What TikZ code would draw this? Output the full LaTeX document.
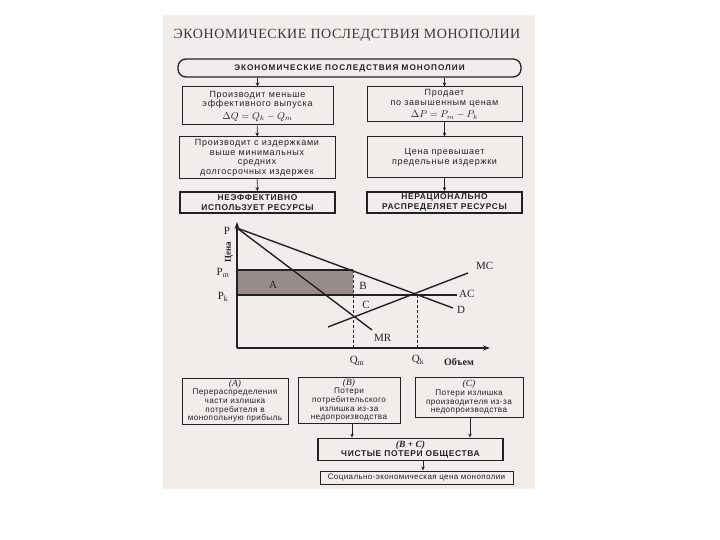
\documentclass[tikz,border=0pt]{standalone}
\usepackage{fontspec}
\setmainfont{Liberation Serif}
\setsansfont{Liberation Sans}
\newfontfamily\boxfont[LetterSpace=8]{Liberation Sans}
\newfontfamily\smallboxfont[LetterSpace=5]{Liberation Sans}
\newfontfamily\capsfont[LetterSpace=12]{Liberation Sans}
\newfontfamily\titlefont[LetterSpace=4]{Liberation Serif}
\newcommand{\formula}[1]{{\fontsize{10}{10}\selectfont$#1$}}
\newcommand{\areatag}[1]{{\rmfamily\itshape\fontsize{9.5}{9}\selectfont #1}}
\usetikzlibrary{arrows.meta,positioning,calc}
\definecolor{paper}{HTML}{F1EDEB}
\definecolor{ink}{HTML}{222222}
\definecolor{areaA}{HTML}{978C89}
\tikzset{
	infobox/.style={
			draw=ink,
			line width=1pt,
			align=center,
			inner sep=0pt,
			text=ink,
			font=\boxfont\fontsize{9}{9.6}\selectfont
		},
	smallbox/.style={
			infobox,
			font=\smallboxfont\fontsize{8.2}{8.7}\selectfont
		},
	resultbox/.style={
			infobox,
			line width=1.8pt,
			font=\boxfont\bfseries\fontsize{8.4}{9.4}\selectfont
		},
	flow/.style={
			draw=ink,
			semithick,
			-{Stealth[length=4pt,width=3.5pt]}
		},
	econline/.style={
			draw=ink,
			line width=1.4pt
		},
	guide/.style={
			draw=ink,
			thick,
			dash pattern=on 3pt off 2pt
		},
	graphlabel/.style={
			font=\fontsize{11}{12}\selectfont,
			text=ink,
			inner sep=1pt
		}
}

\begin{document}
\begin{tikzpicture}[x=1pt,y=-1pt]

              \useasboundingbox (0,0) rectangle (720,540);
              \fill[paper] (163,15) rectangle (535,489);

              \node[font=\titlefont\fontsize{14}{16}\selectfont, text=ink!90] (title) at (347,35) {ЭКОНОМИЧЕСКИЕ ПОСЛЕДСТВИЯ МОНОПОЛИИ};

              \node[infobox, line width=1.3pt, rounded corners=8pt, minimum width=343pt, minimum height=18pt, font=\capsfont\bfseries\fontsize{8.2}{9}\selectfont] (top) at (349.5,68) {ЭКОНОМИЧЕСКИЕ ПОСЛЕДСТВИЯ МОНОПОЛИИ};

              \node[infobox, minimum width=151pt, minimum height=38pt] (l1) at (257.5,106) {Производит меньше\\эффективного выпуска\\[3pt]\formula{\Delta Q = Q_k - Q_m}};
              \node[infobox, minimum width=156pt, minimum height=42pt] (l2) at (257,158) {Производит с издержками\\выше минимальных\\средних\\долгосрочных издержек};
              \node[resultbox, minimum width=155pt, minimum height=21pt] (l3) at (257.5,202.5) {НЕЭФФЕКТИВНО\\ИСПОЛЬЗУЕТ РЕСУРСЫ};

              \node[infobox, minimum width=155pt, minimum height=35pt] (r1) at (444.5,104.5) {Продает\\по завышенным ценам\\[3pt]\formula{\Delta P = P_m - P_k}};
              \node[infobox, minimum width=155pt, minimum height=41pt] (r2) at (444.5,157.5) {Цена превышает\\предельные издержки};
              \node[resultbox, minimum width=155pt, minimum height=21pt] (r3) at (444.5,202.5) {НЕРАЦИОНАЛЬНО\\РАСПРЕДЕЛЯЕТ РЕСУРСЫ};

              \draw[flow] (top.south -| l1.north) -- (l1.north);
              \draw[flow] (l1) -- (l2);
              \draw[flow] (l2) -- (l3);
              \draw[flow] (top.south -| r1.north) -- (r1.north);
              \draw[flow] (r1) -- (r2);
              \draw[flow] (r2) -- (r3);

              \coordinate (O) at (237,348);
              \coordinate (yend) at (237,222);
              \coordinate (xend) at (490,348);
              \coordinate (Ptop) at (237,228);
              \coordinate (Pm) at (237,270);
              \coordinate (Pk) at (237,295);
              \coordinate (Dend) at (453,308);
              \coordinate (MRend) at (372,330);
              \coordinate (MCstart) at (328,327);
              \coordinate (MCend) at (468,273);
              \coordinate (ACend) at (457,295);
              \coordinate (Qm) at (353,348);
              \coordinate (Qk) at (417,348);

              \fill[areaA] (Pm) rectangle (Qm |- Pk);
              \draw[econline] (Pm) -- (Qm |- Pm);
              \draw[econline] (Pk) -- (ACend);
              \draw[guide] (Qm |- Pm) -- (Qm);
              \draw[guide] (Qk |- Pk) -- (Qk);
              \draw[econline] (Ptop) -- (Dend);
              \draw[econline] (Ptop) -- (MRend);
              \draw[econline] (MCstart) -- (MCend);
              \draw[ink, line width=1.5pt, -{Stealth[length=7pt,width=5pt]}] (O) -- (yend);
              \draw[ink, line width=1.5pt, -{Stealth[length=7pt,width=5pt]}] (O) -- (xend);

              \node[graphlabel] (lp) at (227,231) {P};
              \node[graphlabel, rotate=90, font=\bfseries\fontsize{9}{10}\selectfont] (lprice) at (229,252) {Цена};
              \node[graphlabel] (lpm) at (223,273) {P\textsubscript{m}};
              \node[graphlabel] (lpk) at (223,297) {P\textsubscript{k}};
              \node[graphlabel] (la) at (273,285) {A};
              \node[graphlabel] (lb) at (363,286) {B};
              \node[graphlabel] (lc) at (366,305) {C};
              \node[graphlabel, anchor=west] (lmc) at (475,266) {MC};
              \node[graphlabel, anchor=west] (lac) at (458,294) {AC};
              \node[graphlabel, anchor=west] (ld) at (456,310) {D};
              \node[graphlabel, anchor=west] (lmr) at (373,338) {MR};
              \node[graphlabel] (lqm) at (357,361) {Q\textsubscript{m}};
              \node[graphlabel] (lqk) at (418,360) {Q\textsubscript{k}};
              \node[graphlabel, font=\bfseries\fontsize{10}{11}\selectfont] (lvol) at (459,362) {Объем};

              \node[smallbox, minimum width=106pt, minimum height=46pt] (b1) at (235,401) {\areatag{(A)}\\Перераспределения\\части излишка\\потребителя в\\монопольную прибыль};
              \node[smallbox, minimum width=102pt, minimum height=46pt] (b2) at (349,400) {\areatag{(B)}\\Потери\\потребительского\\излишка из-за\\недопроизводства};
              \node[smallbox, minimum width=108pt, minimum height=40pt] (b3) at (469,397.5) {\areatag{(C)}\\Потери излишка\\производителя из-за\\недопроизводства};
              \node[resultbox, minimum width=185pt, minimum height=22pt] (s1) at (410.5,449.5) {\areatag{\bfseries (B + C)}\\ЧИСТЫЕ ПОТЕРИ ОБЩЕСТВА};
              \node[smallbox, minimum width=193pt, minimum height=13pt, font=\smallboxfont\fontsize{8}{9}\selectfont] (f1) at (416.5,477.5) {Социально-экономическая цена монополии};

              \draw[flow, thick] (b2.south -| 352,0) -- (s1.north -| 352,0);
              \draw[flow, thick] (b3.south -| 470,0) -- (s1.north -| 470,0);
              \draw[flow, thick] (s1.south -| 423,0) -- (f1.north -| 423,0);

            \end{tikzpicture}
\end{document}
